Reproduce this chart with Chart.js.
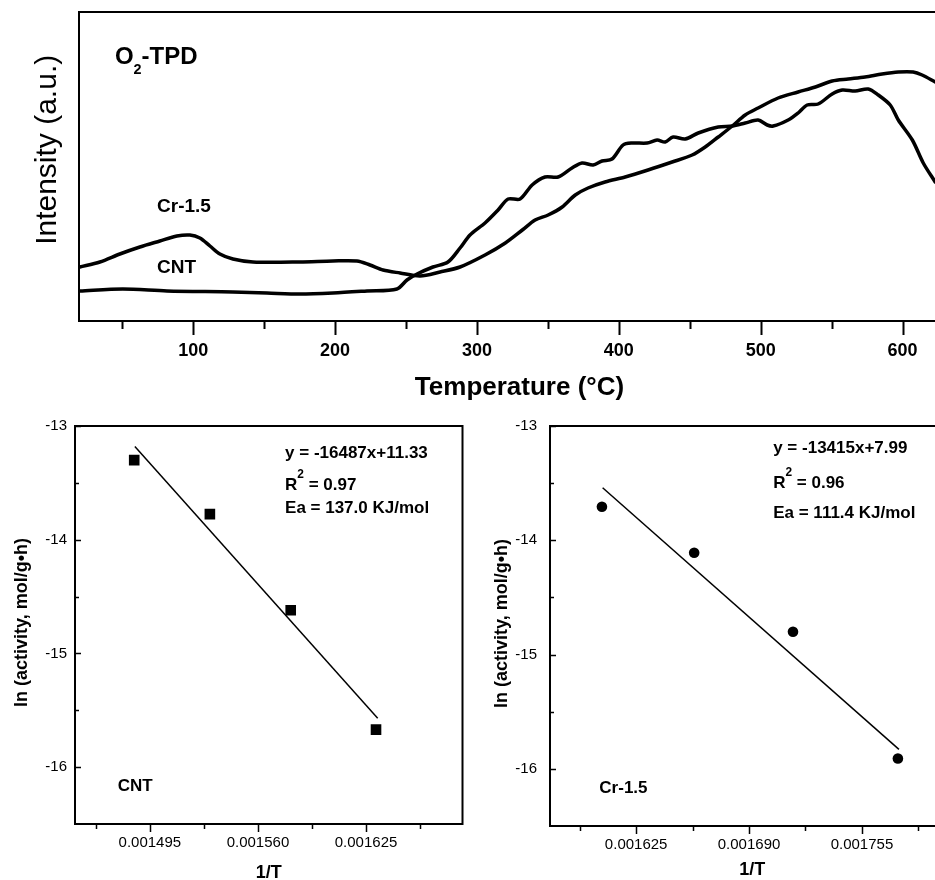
<!DOCTYPE html>
<html>
<head>
<meta charset="utf-8">
<script src="https://cdn.jsdelivr.net/npm/chart.js@4.4.1/dist/chart.umd.min.js"></script>
<style>
  html, body { margin: 0; padding: 0; background: #fff; }
  body { width: 935px; height: 880px; overflow: hidden; position: relative; }
  canvas { position: absolute; }
</style>
</head>
<body>
<canvas id="tpdChart" width="960" height="404" style="left:0;top:0"></canvas>
<canvas id="cntChart" width="470" height="484" style="left:0;top:404px"></canvas>
<canvas id="crChart" width="490" height="484" style="left:470px;top:404px"></canvas>
<script>
// ---- O2-TPD profiles (temperature in C, intensity in a.u.) ----
const tpdTempCNT = [20.1, 50.4, 81.5, 128, 152, 175.2, 198.5, 222.5, 243.6, 250.7, 257.8, 269, 279.6, 288.1, 295.1,
  305.7, 314.9, 322, 330.4, 338.9, 348, 357.2, 367, 374.1, 381.9, 388.2, 395.2, 403, 409.4, 420, 427, 432.7, 438.3,
  446.8, 456, 470.1, 480, 489.1, 498.2, 504.6, 508.8, 519.4, 526.4, 532.8, 540.5, 550.4, 557.5, 566.6, 575.8, 582.9,
  591.3, 597, 606.9, 614.6, 623];
const tpdIntCNT = [30, 32, 30, 29, 28, 27, 28, 30, 32, 41, 47, 54, 59, 73, 86,
  98, 111, 122, 122, 136, 144, 144, 153, 158, 156, 160, 162, 176, 178, 178, 181, 179, 184,
  182, 188, 194, 195, 198, 201, 196, 195, 201, 208, 216, 217, 227, 231, 230, 232, 226,
  216, 201, 181, 158, 139];
const tpdTempCr = [20.1, 34.2, 48.3, 62.4, 76.5, 88.5, 97.7, 104.7, 111.8, 118.8, 128, 142.1, 175.2, 198.5, 215.4,
  224.6, 233.8, 245.8, 259.9, 274, 288.1, 305.7, 320, 332, 341, 350.2, 360.1, 369.3, 378.3, 390.3, 404.5, 420.6,
  437.6, 451.7, 460.9, 470.1, 480, 489.1, 498.2, 512.3, 526.4, 538.6, 550.4, 561.7, 573.6, 585.6, 597, 607.5, 613.8, 623];
const tpdIntCr = [54, 59, 67, 74, 80, 85, 86, 83, 75, 67, 62, 59, 59, 60, 60,
  56, 51, 48, 45, 49, 54, 66, 78, 91, 101, 106, 114, 126, 133, 139, 144, 151,
  159, 166, 174, 184, 195, 206, 213, 223, 229, 234, 240, 242, 244, 247, 249, 249, 246, 239];
const tpdTicks = [100, 200, 300, 400, 500, 600];
const tpdMinorTicks = [50, 150, 250, 350, 450, 550];

// ---- Arrhenius plots ----
const cntInvT = [0.0014856, 0.0015311, 0.0015797, 0.001631];
const cntLnAct = [-13.30, -13.775, -14.62, -15.67];
const cntFitX = [0.001486, 0.001632];
const cntFitY = [-13.18, -15.57];
const cntXTicks = [0.001495, 0.001560, 0.001625];
const cntXLabels = ['0.001495', '0.001560', '0.001625'];
const cntXMinor = [0.0014625, 0.0015275, 0.0015925, 0.0016575];

const crInvT = [0.0016053, 0.0016584, 0.0017153, 0.0017757];
const crLnAct = [-13.707, -14.109, -14.80, -15.91];
const crFitX = [0.0016057, 0.0017763];
const crFitY = [-13.54, -15.83];
const crXTicks = [0.001625, 0.001690, 0.001755];
const crXLabels = ['0.001625', '0.001690', '0.001755'];
const crXMinor = [0.0015925, 0.0016575, 0.0017225, 0.0017875];

const lnTicks = [-13, -14, -15, -16];
const lnLabels = ['-13', '-14', '-15', '-16'];
const lnMinor = [-13.5, -14.5, -15.5];

const FONT = '"Liberation Sans", Arial, Helvetica, sans-serif';
Chart.defaults.font.family = FONT;
Chart.defaults.color = '#000';

const toPoints = (xs, ys) => xs.map((x, i) => ({ x, y: ys[i] }));

// box around plot area plus tick marks (x outward, y inward like the original)
const frameTicks = {
  id: 'frameTicks',
  afterDraw(chart, args, opts) {
    const { ctx, chartArea: a, scales } = chart;
    ctx.save();
    ctx.strokeStyle = '#000';
    ctx.lineWidth = opts.frameWidth;
    ctx.strokeRect(a.left, a.top, a.right - a.left, a.bottom - a.top);
    ctx.lineWidth = opts.tickWidth;
    ctx.beginPath();
    const xMark = (vals, len) => vals.forEach(v => {
      const px = Math.round(scales.x.getPixelForValue(v)) + 0.5;
      ctx.moveTo(px, a.bottom); ctx.lineTo(px, a.bottom + len);
    });
    const yMark = (vals, len) => vals.forEach(v => {
      const py = Math.round(scales.y.getPixelForValue(v)) + 0.5;
      ctx.moveTo(a.left, py); ctx.lineTo(a.left + len, py);
    });
    xMark(opts.xMajor || [], opts.xMajorLen);
    xMark(opts.xMinor || [], opts.xMinorLen);
    yMark(opts.yMajor || [], opts.yMajorLen || 0);
    yMark(opts.yMinor || [], opts.yMinorLen || 0);
    ctx.stroke();
    ctx.restore();
  }
};

// text notes placed in data coordinates, with sub/superscript parts
const notes = {
  id: 'notes',
  afterDraw(chart, args, opts) {
    const { ctx, scales: { x, y } } = chart;
    ctx.save();
    ctx.fillStyle = '#000';
    ctx.textBaseline = 'middle';
    ctx.textAlign = 'left';
    (opts.items || []).forEach(n => {
      let px = x.getPixelForValue(n.x);
      const py = y.getPixelForValue(n.y);
      n.parts.forEach(([t, kind]) => {
        const size = kind === 'sup' ? n.size * 0.7 : kind === 'sub' ? n.size * 0.6 : n.size;
        const dy = kind === 'sub' ? n.size * 0.55 : kind === 'sup' ? -n.size * 0.6 : 0;
        ctx.font = `${n.weight || 'bold'} ${size}px ${FONT}`;
        ctx.fillText(t, px, py + dy);
        px += ctx.measureText(t).width;
      });
    });
    ctx.restore();
  }
};

const fixedTicks = (vals) => (scale) => { scale.ticks = vals.map(v => ({ value: v })); };

// ---------------- top: O2-TPD ----------------
new Chart(document.getElementById('tpdChart'), {
  type: 'line',
  data: {
    datasets: [
      { label: 'CNT', data: toPoints(tpdTempCNT, tpdIntCNT) },
      { label: 'Cr-1.5', data: toPoints(tpdTempCr, tpdIntCr) }
    ]
  },
  options: {
    responsive: false,
    animation: false,
    devicePixelRatio: 1,
    layout: { padding: { top: 12, right: 0, left: 0, bottom: 0 } },
    elements: {
      line: { borderColor: '#000', borderWidth: 3.5, tension: 0.3, borderCapStyle: 'round', borderJoinStyle: 'round' },
      point: { radius: 0 }
    },
    plugins: {
      legend: { display: false },
      tooltip: { enabled: false },
      frameTicks: { frameWidth: 2, tickWidth: 2, xMajor: tpdTicks, xMinor: tpdMinorTicks, xMajorLen: 14, xMinorLen: 8 },
      notes: {
        items: [
          { x: 44.8, y: 264, size: 24, parts: [['O'], ['2', 'sub'], ['-TPD']] },
          { x: 74.5, y: 114, size: 19, parts: [['Cr-1.5']] },
          { x: 74.5, y: 53, size: 19, parts: [['CNT']] }
        ]
      }
    },
    scales: {
      x: {
        type: 'linear', min: 19.5, max: 640.5,
        grid: { display: false, drawTicks: false }, border: { display: false },
        afterBuildTicks: fixedTicks(tpdTicks),
        afterFit: (s) => { s.height = 83; },
        ticks: { autoSkip: false, maxRotation: 0, padding: 19, font: { size: 18, weight: 'bold' }, callback: (v) => String(v) },
        title: { display: true, text: 'Temperature (°C)', font: { size: 26, weight: 'bold' }, padding: { top: 0, bottom: 1 } }
      },
      y: {
        type: 'linear', min: 0, max: 309,
        grid: { display: false, drawTicks: false }, border: { display: false },
        afterFit: (s) => { s.width = 79; },
        ticks: { display: false },
        // leading spaces nudge the centred title up to where the original sits
        title: { display: true, text: '    Intensity (a.u.)', font: { size: 30, weight: 'normal' }, padding: { top: 30, bottom: 0 } }
      }
    }
  },
  plugins: [frameTicks, notes]
});

// ---------------- Arrhenius panels ----------------
function arrhenius(id, o) {
  return new Chart(document.getElementById(id), {
    type: 'scatter',
    data: {
      datasets: [
        { data: toPoints(o.xs, o.ys), pointStyle: o.marker, pointRadius: o.radius, backgroundColor: '#000', borderColor: '#000', borderWidth: 0 },
        { data: toPoints(o.fitX, o.fitY), showLine: true, pointRadius: 0, borderColor: '#000', borderWidth: 1.5 }
      ]
    },
    options: {
      responsive: false,
      animation: false,
      devicePixelRatio: 1,
      layout: { padding: { top: 22, right: o.padRight, left: 0, bottom: 0 } },
      plugins: {
        legend: { display: false },
        tooltip: { enabled: false },
        frameTicks: {
          frameWidth: 2, tickWidth: 1.5,
          xMajor: o.xTicks, xMinor: o.xMinor, xMajorLen: 8, xMinorLen: 5,
          yMajor: lnTicks, yMinor: lnMinor, yMajorLen: 6, yMinorLen: 4
        },
        notes: { items: o.notes }
      },
      scales: {
        x: {
          type: 'linear', min: o.xMin, max: o.xMax,
          grid: { display: false, drawTicks: false }, border: { display: false },
          afterBuildTicks: fixedTicks(o.xTicks),
          afterFit: (s) => { s.height = o.xHeight; },
          ticks: { autoSkip: false, maxRotation: 0, padding: 10, font: { size: 15 }, callback: (v, i) => o.xLabels[i] },
          title: { display: true, text: '1/T', font: { size: 18, weight: 'bold' }, padding: { top: 0, bottom: o.xTitlePad } }
        },
        y: {
          type: 'linear', min: -16.5, max: -13,
          grid: { display: false, drawTicks: false }, border: { display: false },
          afterBuildTicks: fixedTicks(lnTicks),
          afterFit: (s) => { s.width = o.yWidth; },
          ticks: { autoSkip: false, padding: o.yLabelPad, font: { size: 15 }, callback: (v, i) => lnLabels[i] },
          title: { display: true, text: ' ln (activity, mol/g•h)', font: { size: 18, weight: 'bold' }, padding: { top: o.yTitlePad, bottom: 0 } }
        }
      }
    },
    plugins: [frameTicks, notes]
  });
}

arrhenius('cntChart', {
  xs: cntInvT, ys: cntLnAct, fitX: cntFitX, fitY: cntFitY, marker: 'rect', radius: 7.5,
  xMin: 0.00145, xMax: 0.001683, xTicks: cntXTicks, xLabels: cntXLabels, xMinor: cntXMinor,
  xHeight: 64, yWidth: 75, padRight: 7, yLabelPad: 8, yTitlePad: 11, xTitlePad: 4.5,
  notes: [
    { x: 0.0015763, y: -13.24, size: 17, parts: [['y = -16487x+11.33']] },
    { x: 0.0015763, y: -13.52, size: 17, parts: [['R'], ['2', 'sup'], [' = 0.97']] },
    { x: 0.0015763, y: -13.72, size: 17, parts: [['Ea = 137.0 KJ/mol']] },
    { x: 0.0014757, y: -16.17, size: 17, parts: [['CNT']] }
  ]
});

arrhenius('crChart', {
  xs: crInvT, ys: crLnAct, fitX: crFitX, fitY: crFitY, marker: 'circle', radius: 5.3,
  xMin: 0.0015754, xMax: 0.0018084, xTicks: crXTicks, xLabels: crXLabels, xMinor: crXMinor,
  xHeight: 62, yWidth: 80, padRight: 0, yLabelPad: 13, yTitlePad: 21, xTitlePad: 7,
  notes: [
    { x: 0.0017039, y: -13.195, size: 17, parts: [['y = -13415x+7.99']] },
    { x: 0.0017039, y: -13.50, size: 17, parts: [['R'], ['2', 'sup'], [' = 0.96']] },
    { x: 0.0017039, y: -13.76, size: 17, parts: [['Ea = 111.4 KJ/mol']] },
    { x: 0.0016038, y: -16.17, size: 17, parts: [['Cr-1.5']] }
  ]
});
</script>
</body>
</html>
